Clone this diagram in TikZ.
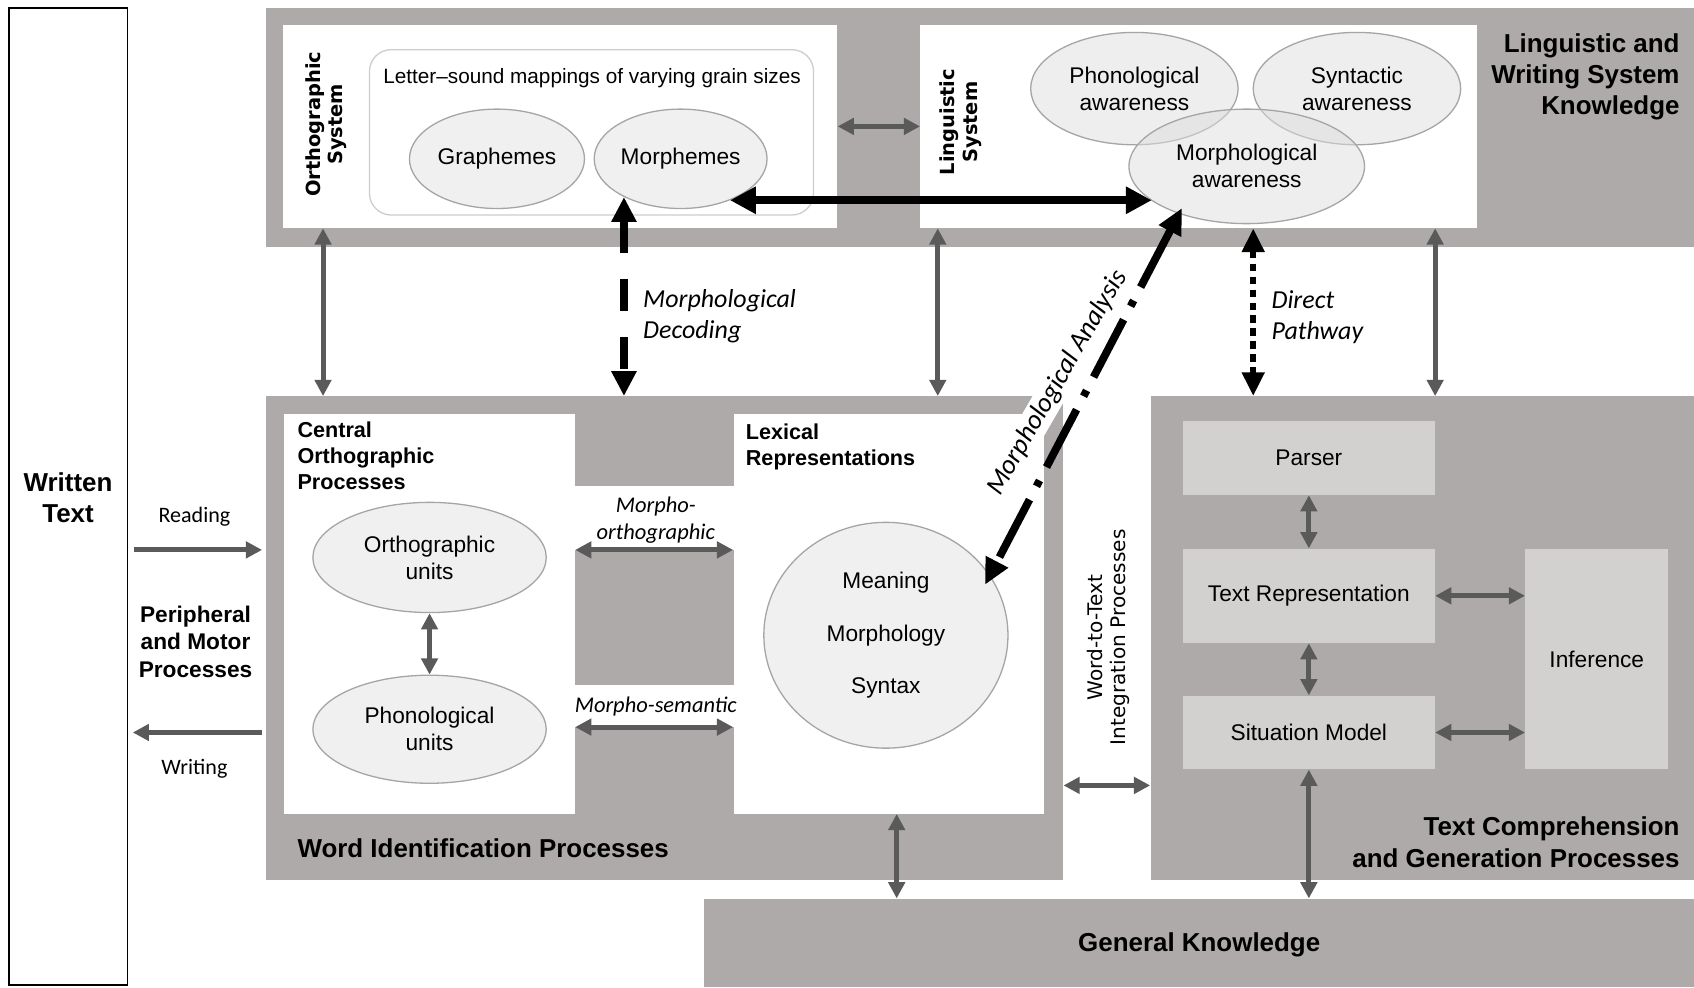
\documentclass[tikz,border=0pt]{standalone}
\usepackage{fontspec}
\setmainfont{Liberation Sans}
\newfontfamily\calfont{Carlito}
\newfontfamily\dejafont{DejaVu Sans}
\usetikzlibrary{arrows.meta,shapes.geometric,fit,positioning}

\definecolor{boxgray}{RGB}{173,170,169}
\definecolor{innergray}{RGB}{210,209,208}
\definecolor{ellfill}{RGB}{240,240,240}
\definecolor{lingfill}{RGB}{222,222,222}
\definecolor{ellline}{RGB}{165,165,165}
\definecolor{arrowgray}{RGB}{90,90,90}
\definecolor{mapline}{RGB}{205,205,205}

\begin{document}
\begin{tikzpicture}[x=0.5pt, y=-0.5pt,
	graybox/.style={fill=boxgray, inner sep=0pt},
	whitebox/.style={fill=white, inner sep=0pt},
	innerbox/.style={fill=innergray, inner sep=0pt, font=\fontsize{10.5}{12.5}\selectfont},
	oval/.style={ellipse, draw=ellline, fill=ellfill, line width=0.6pt, inner sep=0pt, align=center, font=\fontsize{10.5}{12.5}\selectfont},
	lingoval/.style={oval, fill=lingfill, fill opacity=0.5, text opacity=1},
	title/.style={font=\bfseries\fontsize{12}{14.5}\selectfont, inner sep=0pt},
	subtitle/.style={font=\bfseries\fontsize{10}{12}\selectfont, align=left, inner sep=0pt},
	sidetitle/.style={font=\dejafont\bfseries\fontsize{9}{10.5}\selectfont, rotate=90, align=center, inner sep=0pt},
	pathlabel/.style={font=\calfont\itshape\fontsize{12}{14.5}\selectfont, align=left, inner sep=0pt},
	linklabel/.style={font=\calfont\itshape\fontsize{10.4}{12.5}\selectfont, align=center, inner sep=0pt},
	readlabel/.style={font=\calfont\fontsize{10.2}{12}\selectfont, inner sep=0pt},
	grayline/.style={draw=arrowgray, line width=2.3pt},
	grayarrow/.style={grayline, {Triangle[length=7.5pt,width=7.5pt]}-{Triangle[length=7.5pt,width=7.5pt]}},
	grayone/.style={grayline, -{Triangle[length=7.5pt,width=7.5pt]}},
	bigarrow/.style={draw=black, line width=3.8pt, {Triangle[length=12pt,width=12pt]}-{Triangle[length=12pt,width=12pt]}},
	decodearrow/.style={draw=black, line width=3.8pt, dash pattern=on 15pt off 12pt, {Triangle[length=11.5pt,width=11pt]}-{Triangle[length=11.5pt,width=11pt]}},
	dotarrow/.style={draw=black, line width=3pt, dash pattern=on 3.5pt off 2.5pt, {Triangle[length=11pt,width=10pt]}-{Triangle[length=11pt,width=10pt]}},
	analysisarrow/.style={draw=black, line width=3.6pt, dash pattern=on 30pt off 7pt on 3pt off 7pt, {Triangle[length=12pt,width=11pt]}-{Triangle[length=12pt,width=11pt]}}
	]
	% canvas
	\fill[white] (0,0) rectangle (1568,914);
	\useasboundingbox (0,0) rectangle (1568,914);
	
	% the big blocks
	\node[graybox, fit={(246,7) (1568,229)}] (lwsk) {};
	\node[whitebox, fit={(262,23) (775,211)}] (ortho) {};
	\node[whitebox, fit={(852,23) (1367,211)}] (ling) {};
	\node[fit={(342,46) (753,199)}, draw=mapline, rounded corners=10pt, line width=0.6pt, inner sep=0pt] (lsmap) {};
	\node[graybox, fit={(246,367) (984,815)}] (wordid) {};
	\node[whitebox, fit={(263,383) (532,753)}] (cop) {};
	\node[whitebox, fit={(679,383) (966,753)}] (lex) {};
	\fill[white] (532,450) rectangle (679,509);
	\fill[white] (532,634) rectangle (679,673);
	\node[graybox, fit={(1065,367) (1568,815)}] (textcomp) {};
	\node[innerbox, minimum width=116.5pt, minimum height=34pt] (parser) at (1211.5,424) {Parser};
	\node[innerbox, minimum width=116.5pt, minimum height=43.5pt] (textrep) at (1211.5,551.5) {Text Representation};
	\node[innerbox, minimum width=116.5pt, minimum height=34pt] (sitmodel) at (1211.5,678) {Situation Model};
	\node[innerbox, minimum width=66pt, minimum height=102pt] (inference) at (1478,610) {Inference};
	\node[graybox, fit={(652,832) (1568,914)}] (gk) {};
	\node[draw=black, line width=0.9pt, inner sep=0pt, fit={(8,7) (118,912)}] (written) {};
	
	% ellipses
	\node[oval, minimum width=81pt, minimum height=46pt] (graphemes) at (460,147) {Graphemes};
	\node[oval, minimum width=80pt, minimum height=46pt] (morphemes) at (630,147) {Morphemes};
	\node[lingoval, minimum width=96pt, minimum height=52pt] (phonaw) at (1050,82) {Phonological\\awareness};
	\node[lingoval, minimum width=96pt, minimum height=52pt] (syntaw) at (1256,82) {Syntactic\\awareness};
	\node[lingoval, minimum width=109pt, minimum height=53pt] (morphaw) at (1154,154) {Morphological\\awareness};
	\node[oval, minimum width=108pt, minimum height=51pt] (orthunits) at (397.6,516) {Orthographic\\units};
	\node[oval, minimum width=108pt, minimum height=50pt] (phonunits) at (397.6,675) {Phonological\\units};
	\node[oval, minimum width=113pt, minimum height=104.5pt, font=\fontsize{10.5}{24.3}\selectfont] (lexcircle) at (820,588) {Meaning\\Morphology\\Syntax};
	
	% titles
	\node[title, align=center] at (63,461) {Written\\Text};
	\node[title, align=right, anchor=east] at (1555,71) {Linguistic and\\Writing System\\Knowledge};
	\node[title, align=right, anchor=east] at (1555,779.5) {Text Comprehension\\and Generation Processes};
	\node[title, anchor=west] at (275,785) {Word Identification Processes};
	\node[title] at (1110,875) {General Knowledge};
	\node[subtitle, anchor=west] at (275,422) {Central\\Orthographic\\Processes};
	\node[subtitle, anchor=west] at (690,414) {Lexical\\Representations};
	\node[sidetitle] at (302,115) {Orthographic\\System};
	\node[sidetitle] at (889,113) {Linguistic\\System};
	\node[font=\dejafont\fontsize{9.3}{10.5}\selectfont, rotate=90, align=center, inner sep=0pt] at (1026,590) {Word-to-Text\\Integration Processes};
	\node[font=\bfseries\fontsize{10.5}{12.75}\selectfont, align=center, inner sep=0pt] at (181,594) {Peripheral\\and Motor\\Processes};
	\node[font=\fontsize{9.6}{11}\selectfont, inner sep=0pt] at (548,72) {Letter–sound mappings of varying grain sizes};
	\node[readlabel] at (180,478) {Reading};
	\node[readlabel] at (180,712) {Writing};
	\node[linklabel] at (607,481.5) {Morpho-\\orthographic};
	\node[linklabel] at (607,654) {Morpho-semantic};
	
	% levels used by the arrows
	\coordinate (readlvl) at (0,509);
	\coordinate (writelvl) at (0,678);
	\coordinate (semlvl) at (0,673);
	\coordinate (wtlvl) at (0,727);
	\coordinate (ox) at (299,0);
	\coordinate (lx) at (868,0);
	\coordinate (gx) at (830,0);
	\coordinate (dpx) at (1160,0);
	
	% gray connectors
	\draw[grayarrow] (ortho.east) -- (ling.west);
	\draw[grayarrow] (ortho.south -| ox) -- (ox |- wordid.north);
	\draw[grayarrow] (ling.south -| lx) -- (lx |- wordid.north);
	\draw[grayarrow] (ling.south -| parser.east) -- (parser.east |- textcomp.north);
	\draw[grayone, shorten <=2.5pt, shorten >=1.5pt] (written.east |- readlvl) -- (wordid.west |- readlvl);
	\draw[grayone, shorten <=1.5pt, shorten >=2pt] (wordid.west |- writelvl) -- (written.east |- writelvl);
	\draw[grayarrow] (cop.east |- readlvl) -- (lex.west |- readlvl);
	\draw[grayarrow] (cop.east |- semlvl) -- (lex.west |- semlvl);
	\draw[grayarrow] (orthunits.south) -- (phonunits.north);
	\draw[grayarrow] (wordid.east |- wtlvl) -- (textcomp.west |- wtlvl);
	\draw[grayarrow] (parser.south) -- (textrep.north);
	\draw[grayarrow] (textrep.south) -- (sitmodel.north);
	\draw[grayarrow] (textrep.east) -- (textrep.east -| inference.west);
	\draw[grayarrow] (sitmodel.east) -- (sitmodel.east -| inference.west);
	\draw[grayarrow] (sitmodel.south) -- (sitmodel.south |- gk.north);
	\draw[grayarrow] (lex.south -| gx) -- (gx |- gk.north);
	
	% black pathways
	\draw[bigarrow] (morphemes.-40) -- (morphemes.-40 -| morphaw.200);
	\draw[decodearrow] (morphemes.214) -- (morphemes.214 |- wordid.north)
		node[pathlabel, pos=0.6, right=7pt] {Morphological\\Decoding};
	\draw[dotarrow] (ling.south -| dpx) -- (dpx |- textcomp.north)
		node[pathlabel, pos=0.53, right=7pt] {Direct\\Pathway};
	\node[pathlabel, font=\calfont\itshape\fontsize{12.5}{14.5}\selectfont, rotate=60, fill=white, inner sep=1.5pt] (malabel) at (979,354) {Morphological Analysis};
	\draw[analysisarrow, shorten <=-3pt, shorten >=-5pt] (morphaw.215) -- (lexcircle.30);
	
\end{tikzpicture}
\end{document}
